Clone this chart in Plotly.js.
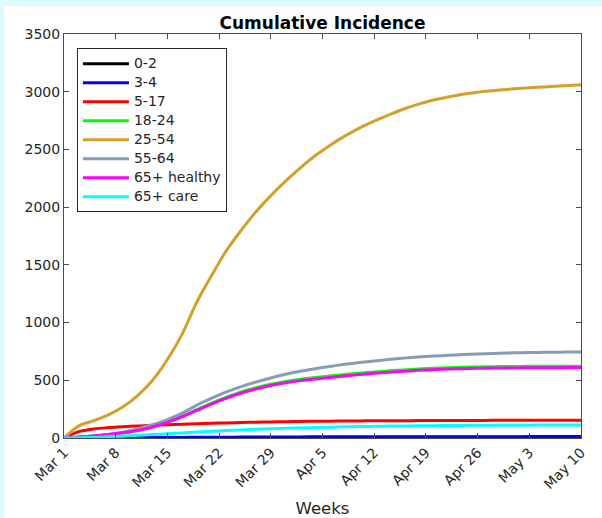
<!DOCTYPE html>
<html>
<head>
<meta charset="utf-8">
<script src="https://cdn.plot.ly/plotly-3.0.1.min.js"></script>
<style>
  html, body { margin: 0; padding: 0; background: #dbfbfe; }
  #chart { position: absolute; left: 4px; top: 6px; width: 598px; height: 512px; background: #fff; }
</style>
</head>
<body>
<div id="chart"></div>
<script>
// Days since Mar 1 (sampled every two days)
const days = [0, 2, 4, 6, 8, 10, 12, 14, 16, 18, 20, 22, 24, 26, 28, 30, 32, 34,
              36, 38, 40, 42, 44, 46, 48, 50, 52, 54, 56, 58, 60, 62, 64, 66, 68, 70];

// Weekly tick positions and labels
const tickDays = [0, 7, 14, 21, 28, 35, 42, 49, 56, 63, 70];
const tickLabels = ["Mar 1", "Mar 8", "Mar 15", "Mar 22", "Mar 29", "Apr 5",
                    "Apr 12", "Apr 19", "Apr 26", "May 3", "May 10"];

// Cumulative incidence per age group
const age0_2 = [0, 0.3, 0.6, 0.9, 1.2, 1.6, 2, 2.4, 2.8, 3.2, 3.5, 3.8, 4.1, 4.3, 4.5, 4.7, 4.9, 5,
                5.1, 5.2, 5.3, 5.4, 5.5, 5.5, 5.6, 5.6, 5.7, 5.7, 5.7, 5.8, 5.8, 5.8, 5.8, 5.9, 5.9, 5.9];
const age3_4 = [0, 0.5, 1, 1.5, 2, 2.8, 3.6, 4.4, 5.2, 6, 6.7, 7.3, 7.9, 8.4, 8.9, 9.3, 9.7, 10,
                10.3, 10.6, 10.8, 11, 11.2, 11.3, 11.4, 11.5, 11.6, 11.7, 11.8, 11.8, 11.9, 11.9, 12, 12, 12, 12];
const age5_17 = [0, 55, 78, 90, 98, 104, 110, 115, 120, 124, 128, 131, 134, 137, 139, 141, 143, 145,
                 146, 147, 148, 149, 150, 150, 151, 151, 152, 152, 152, 153, 153, 153, 153, 154, 154, 154];
const age18_24 = [0, 8, 18, 31, 46, 67, 97, 138, 190, 246, 302, 353, 399, 435, 466, 490, 509, 524,
                  537, 550, 562, 572, 582, 590, 598, 604, 609, 613, 616, 618, 619, 620, 621, 621, 622, 622];
const age25_54 = [0, 105, 150, 200, 270, 370, 500, 680, 900, 1180, 1410, 1625, 1800, 1960, 2100, 2225, 2340, 2445,
                  2535, 2615, 2685, 2745, 2800, 2850, 2893, 2928, 2955, 2978, 2995, 3008, 3020, 3030, 3038, 3045, 3052, 3060];
const age55_64 = [0, 5, 15, 30, 50, 80, 115, 160, 215, 285, 345, 400, 445, 485, 520, 552, 578, 600,
                  620, 638, 654, 668, 680, 692, 702, 710, 717, 723, 728, 732, 736, 739, 741, 743, 744, 745];
const age65Healthy = [0, 8, 18, 30, 45, 65, 95, 135, 185, 240, 295, 345, 390, 425, 455, 478, 497, 512,
                      525, 538, 550, 560, 570, 578, 586, 592, 597, 601, 604, 606, 607, 608, 609, 609, 610, 610];
const age65Care = [0, 2, 5, 10, 16, 23, 30, 37, 44, 51, 58, 64, 70, 75, 80, 84, 88, 91,
                   94, 97, 99, 101, 103, 104, 106, 107, 108, 109, 110, 110, 111, 111, 112, 112, 112, 113];

const groupNames = ["0-2", "3-4", "5-17", "18-24", "25-54", "55-64", "65+ healthy", "65+ care"];
const groupValues = [age0_2, age3_4, age5_17, age18_24, age25_54, age55_64, age65Healthy, age65Care];
const groupColors = ["#000000", "#0000ff", "#ff0000", "#00ff00", "#d4a02c", "#879cb5", "#ff00ff", "#00ffff"];

// Legend rows are packed tighter than the label text size would give by default
const legendLabelSize = 14;

const traces = groupNames.map((name, i) => ({
  x: days,
  y: groupValues[i],
  name: '<span style="font-size:' + legendLabelSize + 'px">' + name + '</span>',
  type: "scatter",
  mode: "lines",
  line: { color: groupColors[i], width: 3, shape: "spline", smoothing: 0.8 }
}));

const axisColor = "#4d4d4d";
const textColor = "#262626";

const layout = {
  width: 598,
  height: 512,
  paper_bgcolor: "#ffffff",
  plot_bgcolor: "#ffffff",
  margin: { l: 60, r: 21, t: 28, b: 80 },
  font: { family: "DejaVu Sans, sans-serif", size: 14, color: textColor },
  title: {
    text: "<b>Cumulative Incidence</b>",
    font: { family: "DejaVu Sans, sans-serif", size: 17, color: "#000000" },
    x: 0.5, xref: "paper", xanchor: "center",
    y: 1, yref: "paper", yanchor: "bottom", pad: { b: 5 }
  },
  xaxis: {
    range: [0, 70],
    tickvals: tickDays,
    ticktext: tickLabels,
    tickangle: -45,
    ticks: "inside",
    ticklen: 5,
    tickcolor: axisColor,
    showline: true,
    linecolor: axisColor,
    linewidth: 1,
    mirror: "ticks",
    showgrid: false,
    zeroline: false,
    tickfont: { size: 14, color: textColor },
    title: { text: "Weeks", font: { size: 16.5, color: textColor }, standoff: 17 }
  },
  yaxis: {
    range: [0, 3500],
    dtick: 500,
    tick0: 0,
    ticks: "inside",
    ticklen: 5,
    tickcolor: axisColor,
    showline: true,
    linecolor: axisColor,
    linewidth: 1,
    mirror: "ticks",
    showgrid: false,
    zeroline: false,
    tickfont: { size: 14, color: textColor }
  },
  showlegend: true,
  legend: {
    x: 0.025, xanchor: "left", xref: "paper",
    y: 0.965, yanchor: "top", yref: "paper",
    bgcolor: "#ffffff",
    bordercolor: textColor,
    borderwidth: 1,
    font: { size: 11.3, color: textColor },
    itemwidth: 46,
    tracegroupgap: 0
  }
};

Plotly.newPlot("chart", traces, layout, { displayModeBar: false, staticPlot: true });
</script>
</body>
</html>
